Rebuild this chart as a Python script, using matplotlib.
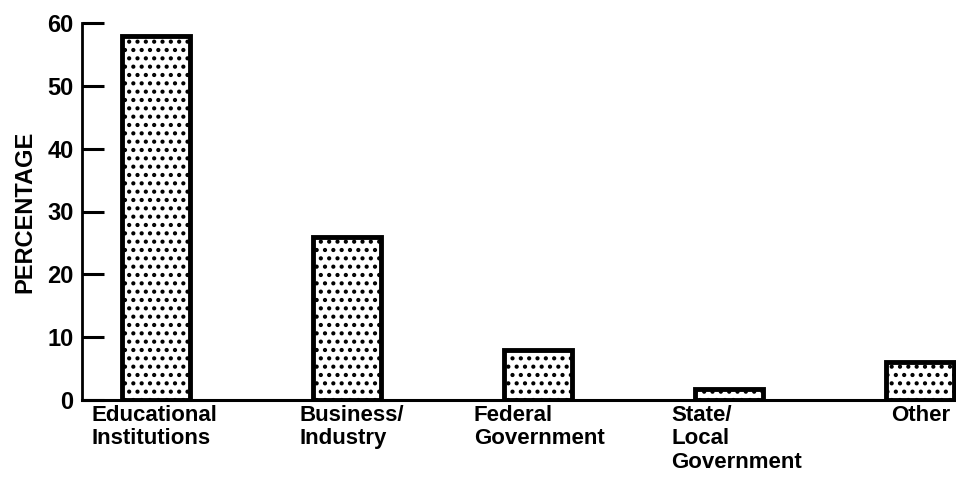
import matplotlib
matplotlib.use("Agg")
import numpy as np
import matplotlib.pyplot as plt

# data
categories = ["Educational\nInstitutions", "Business/\nIndustry", "Federal\nGovernment",
              "State/\nLocal\nGovernment", "Other"]
percent = [58, 26, 8, 1.7, 6]
yticks = [0, 10, 20, 30, 40, 50, 60]

# label placement relative to bar centre (layout only)
label_dx = [-0.335, -0.25, -0.335, -0.30, -0.15]

plt.rcParams["font.family"] = ["Liberation Sans", "DejaVu Sans"]
plt.rcParams["hatch.linewidth"] = 1.8

fig = plt.figure(figsize=(9.56, 4.79), dpi=100)
ax = fig.add_axes([82 / 956, 79 / 479, 1 - 82 / 956, 377 / 479])

x = np.arange(len(categories))
ax.bar(x, percent, width=0.355, facecolor="white", edgecolor="black",
       linewidth=3.5, hatch="..", zorder=3)

ax.set_xlim(-0.387, 4.19)
ax.set_ylim(0, 60)
ax.set_yticks(yticks)
ax.set_yticklabels([str(v) for v in yticks], fontsize=17, fontweight="bold")
ax.set_xticks([])
ax.tick_params(axis="y", direction="in", length=16, width=2.2, pad=6)

for s in ("top", "right"):
    ax.spines[s].set_visible(False)
ax.spines["left"].set_linewidth(2.0)
ax.spines["bottom"].set_linewidth(2.2)

ax.set_ylabel("PERCENTAGE", fontsize=17, fontweight="bold", labelpad=8)

for xi, lab, dx in zip(x, categories, label_dx):
    ax.text(xi + dx, -0.8, lab, ha="left", va="top", fontsize=16,
            fontweight="bold", linespacing=1.15, transform=ax.transData,
            clip_on=False)

fig.savefig("out.png", dpi=100)
